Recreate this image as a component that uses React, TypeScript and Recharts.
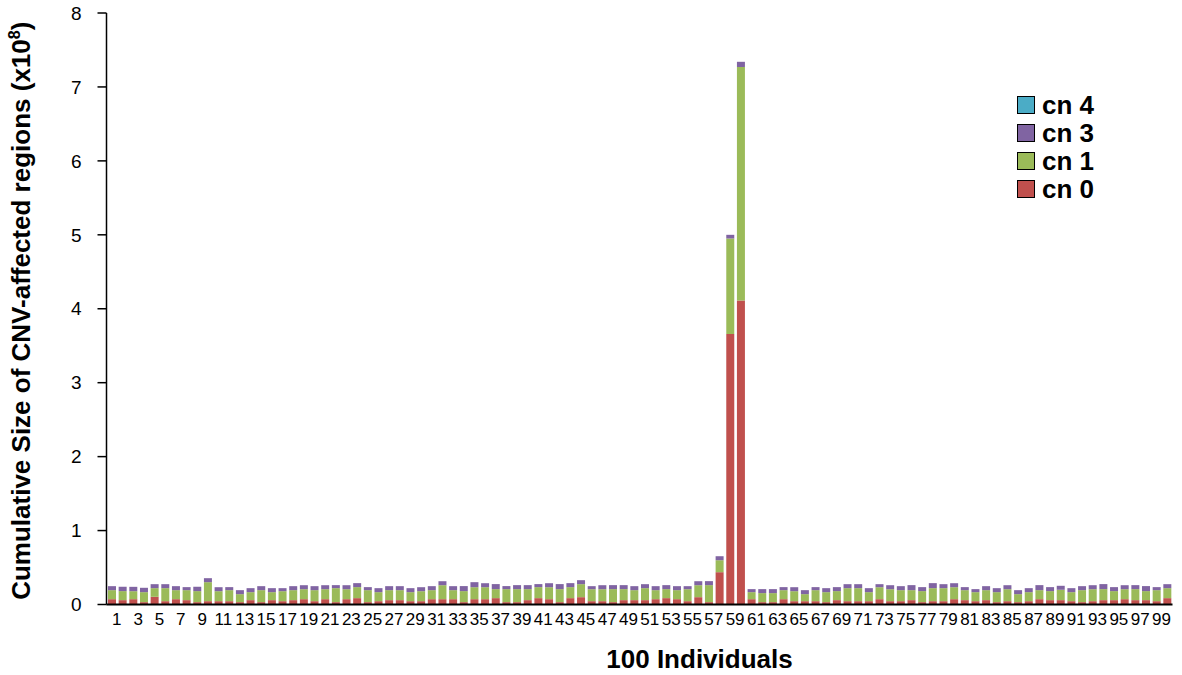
import { Bar, BarChart, Label, Legend, XAxis, YAxis } from "recharts";

// 100 individuals, cumulative size of CNV-affected regions (x10^8) per copy number state
const individuals = Array.from({ length: 100 }, (_, i) => String(i + 1));

const cn0 = [
    0.072, 0.059, 0.072, 0.032, 0.104, 0.045, 0.072, 0.059, 0.032, 0.045,
    0.045, 0.045, 0.032, 0.059, 0.032, 0.059, 0.045, 0.059, 0.072, 0.045,
    0.072, 0.032, 0.072, 0.086, 0.032, 0.045, 0.059, 0.059, 0.045, 0.045,
    0.072, 0.072, 0.072, 0.032, 0.072, 0.072, 0.086, 0.032, 0.032, 0.059,
    0.086, 0.072, 0.032, 0.086, 0.099, 0.045, 0.045, 0.032, 0.059, 0.059,
    0.059, 0.072, 0.086, 0.072, 0.045, 0.099, 0.032, 0.437, 3.66, 4.11,
    0.072, 0.032, 0.032, 0.072, 0.045, 0.045, 0.045, 0.032, 0.059, 0.045,
    0.045, 0.045, 0.072, 0.045, 0.045, 0.059, 0.032, 0.045, 0.045, 0.072,
    0.059, 0.045, 0.059, 0.032, 0.045, 0.032, 0.045, 0.072, 0.059, 0.059,
    0.045, 0.032, 0.045, 0.059, 0.059, 0.072, 0.059, 0.059, 0.045, 0.086,
];

const cn1 = [
    0.122, 0.122, 0.108, 0.135, 0.117, 0.176, 0.122, 0.135, 0.149, 0.257,
    0.135, 0.149, 0.108, 0.108, 0.162, 0.108, 0.135, 0.135, 0.135, 0.149,
    0.135, 0.189, 0.135, 0.149, 0.162, 0.122, 0.135, 0.135, 0.122, 0.135,
    0.122, 0.189, 0.122, 0.149, 0.162, 0.162, 0.122, 0.176, 0.176, 0.149,
    0.149, 0.162, 0.176, 0.149, 0.176, 0.162, 0.162, 0.176, 0.149, 0.135,
    0.162, 0.122, 0.122, 0.122, 0.162, 0.162, 0.23, 0.162, 1.29, 3.16,
    0.095, 0.122, 0.122, 0.122, 0.135, 0.095, 0.149, 0.135, 0.122, 0.176,
    0.176, 0.122, 0.162, 0.162, 0.149, 0.135, 0.149, 0.176, 0.176, 0.162,
    0.135, 0.122, 0.135, 0.135, 0.162, 0.108, 0.122, 0.122, 0.122, 0.14,
    0.122, 0.162, 0.162, 0.149, 0.122, 0.135, 0.149, 0.122, 0.149, 0.135,
];

const cn3 = [
    0.054, 0.059, 0.059, 0.059, 0.054, 0.054, 0.054, 0.041, 0.059, 0.054,
    0.054, 0.041, 0.054, 0.054, 0.054, 0.054, 0.041, 0.054, 0.054, 0.054,
    0.054, 0.041, 0.054, 0.054, 0.041, 0.054, 0.054, 0.054, 0.054, 0.054,
    0.054, 0.054, 0.054, 0.068, 0.068, 0.054, 0.068, 0.041, 0.054, 0.054,
    0.041, 0.054, 0.068, 0.054, 0.054, 0.041, 0.054, 0.054, 0.054, 0.054,
    0.054, 0.054, 0.054, 0.054, 0.041, 0.054, 0.054, 0.054, 0.05, 0.07,
    0.041, 0.054, 0.054, 0.041, 0.054, 0.054, 0.041, 0.054, 0.054, 0.054,
    0.054, 0.054, 0.041, 0.054, 0.054, 0.068, 0.054, 0.068, 0.054, 0.054,
    0.041, 0.041, 0.054, 0.054, 0.054, 0.054, 0.054, 0.068, 0.054, 0.054,
    0.054, 0.054, 0.054, 0.068, 0.054, 0.054, 0.054, 0.068, 0.041, 0.054,
];

const cn4 = [
    0, 0, 0, 0, 0, 0, 0, 0, 0, 0, 0, 0, 0, 0, 0, 0, 0, 0, 0, 0,
    0, 0, 0, 0, 0, 0, 0, 0, 0, 0, 0, 0, 0, 0, 0, 0, 0, 0, 0, 0,
    0, 0, 0, 0, 0, 0, 0, 0, 0, 0, 0, 0, 0, 0, 0, 0, 0, 0, 0, 0,
    0, 0, 0, 0, 0, 0, 0, 0, 0, 0, 0, 0, 0, 0, 0, 0, 0, 0, 0, 0,
    0, 0, 0, 0, 0, 0, 0, 0, 0, 0, 0, 0, 0, 0, 0, 0, 0, 0, 0, 0,
];

const yTicks = [0, 1, 2, 3, 4, 5, 6, 7, 8];

const series = [
    { key: "cn0", name: "cn 0", color: "#C0504D" },
    { key: "cn1", name: "cn 1", color: "#9BBB59" },
    { key: "cn3", name: "cn 3", color: "#8064A2" },
    { key: "cn4", name: "cn 4", color: "#4BACC6" },
];

const data = individuals.map((id, i) => ({ id, cn0: cn0[i], cn1: cn1[i], cn3: cn3[i], cn4: cn4[i] }));

const FONT = "'Liberation Sans', Arial, Helvetica, sans-serif";
const NARROW = "'Liberation Sans Narrow', 'Arial Narrow', 'Liberation Sans', sans-serif";

function YTitle(props: any) {
    const vb = props.viewBox;
    const x = 30;
    const y = vb.y + vb.height / 2 + 2;
    return (
        <text x={x} y={y} transform={`rotate(-90, ${x}, ${y})`} textAnchor="middle"
            fontFamily={FONT} fontWeight="bold" fontSize={26} fill="#000">
            Cumulative Size of CNV-affected regions (x10<tspan dy={-10} fontSize={16}>8</tspan><tspan dy={10}>)</tspan>
        </text>
    );
}

function XTitle(props: any) {
    const vb = props.viewBox;
    return (
        <text x={vb.x + vb.width / 2 + 60} y={668} textAnchor="middle"
            fontFamily={FONT} fontWeight="bold" fontSize={26} fill="#000">
            100 Individuals
        </text>
    );
}

function LegendBox(props: any) {
    const items = [...(props.payload || [])].sort((a: any, b: any) => String(b.value).localeCompare(String(a.value)));
    return (
        <div style={{ fontFamily: FONT }}>
            {items.map((e: any) => (
                <div key={e.value} style={{ display: "flex", alignItems: "center", height: 28 }}>
                    <span style={{
                        display: "inline-block", width: 16, height: 16, background: e.color,
                        border: "1.5px solid #000", marginRight: 7
                    }} />
                    <span style={{ fontWeight: "bold", fontSize: 26, color: "#000", lineHeight: "28px" }}>{e.value}</span>
                </div>
            ))}
        </div>
    );
}

export default function App() {
    return (
        <div style={{ position: "absolute", left: 0, top: 0, width: 1182, height: 675, background: "#fff" }}>
            <BarChart
                width={1182}
                height={675}
                data={data}
                margin={{ top: 13, right: 9.5, left: 0, bottom: 0 }}
                barCategoryGap="14%"
            >
                <XAxis
                    dataKey="id"
                    height={70.5}
                    interval={1}
                    tickLine={false}
                    tickSize={0}
                    tickMargin={8}
                    axisLine={{ stroke: "#000", strokeWidth: 2 }}
                    tick={{ fontSize: 17, fill: "#000", fontFamily: NARROW, dx: 5 }}
                >
                    <Label content={XTitle} />
                </XAxis>
                <YAxis
                    width={106.5}
                    domain={[0, 8]}
                    ticks={yTicks}
                    interval={0}
                    tickSize={9}
                    tickMargin={16}
                    axisLine={{ stroke: "#000", strokeWidth: 1.5 }}
                    tickLine={{ stroke: "#000", strokeWidth: 1.5 }}
                    tick={{ fontSize: 19, fill: "#000", fontFamily: FONT }}
                >
                    <Label content={YTitle} />
                </YAxis>
                <Legend
                    layout="vertical"
                    align="center"
                    verticalAlign="middle"
                    content={LegendBox}
                    wrapperStyle={{ left: 1017, top: 91, width: 120 }}
                />
                {series.map(s => (
                    <Bar key={s.key} dataKey={s.key} name={s.name} stackId="a" fill={s.color} isAnimationActive={false} />
                ))}
            </BarChart>
        </div>
    );
}
